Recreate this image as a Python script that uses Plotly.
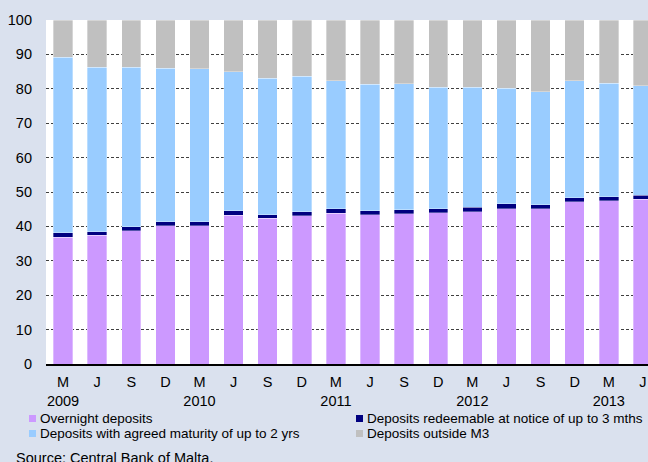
import plotly.graph_objects as go

# Quarter-end observations, March 2009 to June 2013
months = ["M", "J", "S", "D"] * 4 + ["M", "J"]
years = ["2009", "", "", "", "2010", "", "", "", "2011", "", "", "",
         "2012", "", "", "", "2013", ""]
periods = [f"{m} {y}" if y else f"{m} {i}" for i, (m, y) in enumerate(zip(months, years))]

# Shares of total deposits (per cent)
overnight = [36.9, 37.4, 38.8, 40.2, 40.2, 43.3, 42.4, 43.1, 43.8,
             43.4, 43.7, 43.9, 44.3, 45.2, 45.1, 47.1, 47.5, 47.9]
redeemable = [1.3, 1.1, 1.1, 1.1, 1.2, 1.2, 1.0, 1.2, 1.3,
              1.2, 1.2, 1.2, 1.2, 1.4, 1.2, 1.3, 1.1, 1.1]
agreed = [51.0, 47.7, 46.4, 44.7, 44.4, 40.4, 39.6, 39.3, 37.2,
          36.7, 36.6, 35.3, 34.9, 33.5, 32.9, 34.0, 33.0, 31.9]
outside_m3 = [10.8, 13.8, 13.7, 14.0, 14.2, 15.1, 17.0, 16.4, 17.7,
              18.7, 18.5, 19.6, 19.6, 19.9, 20.8, 17.6, 18.4, 19.1]

y_ticks = list(range(0, 101, 10))

series = [
    ("Overnight deposits", overnight, "#CC99FF"),
    ("Deposits redeemable at notice of up to 3 mths", redeemable, "#000080"),
    ("Deposits with agreed maturity of up to 2 yrs", agreed, "#99CCFF"),
    ("Deposits outside M3", outside_m3, "#C0C0C0"),
]

tick_text = [f"{m}<br>{y}" if y else m for m, y in zip(months, years)]

FONT = "Liberation Sans, Arial, sans-serif"
W, H = 648, 462
L, R, T, B = 46, 0, 20, 98
PW, PH = W - L - R, H - T - B


def px_x(x):
    """Pixel column -> paper x."""
    return (x - L) / PW


def px_y(y):
    """Pixel row -> paper y."""
    return (H - B - y) / PH


fig = go.Figure()
for name, vals, color in series:
    fig.add_trace(go.Bar(
        x=periods, y=vals, name=name, showlegend=False,
        marker=dict(color=color, line=dict(color="rgba(255,255,255,0.55)", width=0.6)),
    ))

# Two-column key below the axis: small square swatch followed by its label
key_cols = [(29, 39), (356, 366)]
key_rows = [418.5, 433.5]
shapes, annotations = [], []
for k, (name, _, color) in enumerate(series):
    (sx, tx), cy = key_cols[k % 2], key_rows[k // 2]
    shapes.append(dict(
        type="rect", xref="paper", yref="paper",
        x0=px_x(sx), x1=px_x(sx + 7), y0=px_y(cy - 3.5), y1=px_y(cy + 3.5),
        fillcolor=color, line=dict(width=0),
    ))
    annotations.append(dict(
        text=name, xref="paper", yref="paper", x=px_x(tx - 1), y=px_y(cy),
        xanchor="left", yanchor="middle", showarrow=False,
        font=dict(family=FONT, size=13.5, color="#000000"),
    ))

annotations.append(dict(
    text="Source: Central Bank of Malta.",
    xref="paper", yref="paper", x=px_x(14), y=px_y(448),
    xanchor="left", yanchor="top", showarrow=False,
    font=dict(family=FONT, size=14.5, color="#000000"),
))

fig.update_layout(
    width=W, height=H,
    margin=dict(l=L, r=R, t=T, b=B),
    paper_bgcolor="#DAE1EE",
    plot_bgcolor="#FFFFFF",
    barmode="stack",
    bargap=0.43,
    showlegend=False,
    font=dict(family=FONT, size=14.5, color="#000000"),
    xaxis=dict(
        type="category",
        range=[-0.5, 17.15],
        tickmode="array", tickvals=periods, ticktext=tick_text,
        showgrid=False, ticks="",
        showline=True, linecolor="#000000", linewidth=2,
        ticklabelstandoff=4,
        tickfont=dict(size=14.5),
    ),
    yaxis=dict(
        range=[0, 100],
        tickmode="array", tickvals=y_ticks,
        showgrid=True, gridcolor="#404040", gridwidth=1, griddash="3px,2px",
        zeroline=False, showline=False, ticks="",
        ticklabelstandoff=13,
        tickfont=dict(size=14.5),
    ),
    shapes=shapes,
    annotations=annotations,
)

fig.write_html("out.html")
